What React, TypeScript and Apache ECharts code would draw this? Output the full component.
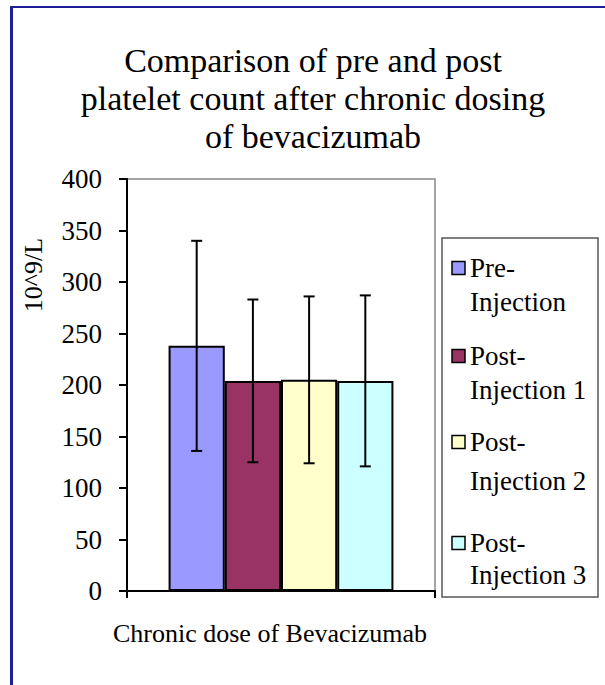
import React, { useEffect, useRef } from "react";
import * as echarts from "echarts";

const categories = ["Chronic dose"];
const seriesNames = ["Pre-Injection", "Post-Injection 1", "Post-Injection 2", "Post-Injection 3"];
const legendLines = [["Pre-", "Injection"], ["Post-", "Injection 1"], ["Post-", "Injection 2"], ["Post-", "Injection 3"]];
const means = [238, 204, 205, 204];
const errors = [102, 79, 81, 83];
const colors = ["#9999FF", "#993366", "#FFFFCC", "#CCFFFF"];
const yTicks = { min: 0, max: 400, interval: 50 };

const FONT = "Liberation Serif";
const GAP = 0.27;

// legend layout (pixel positions of each entry's two text lines)
const legendY1 = [268, 356, 442, 543];
const legendY2 = [302, 390, 481, 575];

export default function App() {
  const ref = useRef<HTMLDivElement>(null);
  useEffect(() => {
    if (!ref.current) return;
    const chart = echarts.init(ref.current, null, { renderer: "svg" });
    const n = seriesNames.length;

    const barSeries = seriesNames.map((name, i) => ({
      name,
      type: "bar",
      data: [means[i]],
      barGap: "0%",
      barCategoryGap: GAP * 100 + "%",
      itemStyle: { color: colors[i], borderColor: "#000", borderWidth: 2 },
      z: 2,
    }));

    const errSeries = seriesNames.map((name, i) => ({
      name: name + " SD",
      type: "custom",
      z: 5,
      encode: { x: 0, y: 1 },
      data: [[0, means[i], errors[i]]],
      renderItem: (params: any, api: any) => {
        const cat = api.value(0);
        const mean = api.value(1);
        const err = api.value(2);
        const band = api.size([1, 0])[0];
        const bw = (band * (1 - GAP)) / n;
        const cx = api.coord([cat, mean])[0] + (i - (n - 1) / 2) * bw;
        const top = api.coord([cat, mean + err])[1];
        const bot = api.coord([cat, mean - err])[1];
        const cap = 5.5;
        const st = { stroke: "#000", lineWidth: 2 };
        return {
          type: "group",
          children: [
            { type: "line", shape: { x1: cx, y1: top, x2: cx, y2: bot }, style: st },
            { type: "line", shape: { x1: cx - cap, y1: top, x2: cx + cap, y2: top }, style: st },
            { type: "line", shape: { x1: cx - cap, y1: bot, x2: cx + cap, y2: bot }, style: st },
          ],
        };
      },
    }));

    const legendGraphics: any[] = [
      {
        type: "rect",
        shape: { x: 442, y: 238, width: 156, height: 359 },
        style: { fill: "#fff", stroke: "#555", lineWidth: 1.5 },
        z: 10,
      },
    ];
    legendLines.forEach((lines, i) => {
      legendGraphics.push({
        type: "rect",
        shape: { x: 452, y: legendY1[i] - 6.5, width: 13, height: 13 },
        style: { fill: colors[i], stroke: "#000", lineWidth: 1.5 },
        z: 11,
      });
      [legendY1[i], legendY2[i]].forEach((yy, k) => {
        legendGraphics.push({
          type: "text",
          x: 470,
          y: yy,
          style: {
            text: lines[k],
            font: `27px ${FONT}`,
            fill: "#000",
            verticalAlign: "middle",
            align: "left",
          },
          z: 11,
        });
      });
    });

    const option: any = {
      animation: false,
      backgroundColor: "#fff",
      textStyle: { fontFamily: FONT },
      title: {
        text: "Comparison of pre and post\nplatelet count after chronic dosing\nof bevacizumab",
        left: 308,
        top: 36,
        textAlign: "center",
        textStyle: { fontFamily: FONT, fontSize: 34, fontWeight: "normal", color: "#000", lineHeight: 38 },
      },
      grid: {
        left: 127,
        top: 179,
        width: 308,
        height: 412,
        show: true,
        borderColor: "#888",
        borderWidth: 1.5,
        backgroundColor: "transparent",
        containLabel: false,
      },
      xAxis: {
        type: "category",
        data: categories,
        boundaryGap: true,
        axisLine: { lineStyle: { color: "#000", width: 2 } },
        axisTick: { show: true, length: 7, lineStyle: { color: "#000", width: 2 } },
        axisLabel: { show: false },
      },
      yAxis: {
        type: "value",
        min: yTicks.min,
        max: yTicks.max,
        interval: yTicks.interval,
        splitLine: { show: false },
        axisLine: { show: true, lineStyle: { color: "#000", width: 2 } },
        axisTick: { show: true, length: 8, lineStyle: { color: "#000", width: 2 } },
        axisLabel: { fontFamily: FONT, fontSize: 27, color: "#000", margin: 25 },
      },
      series: [...barSeries, ...errSeries],
      graphic: [
        { type: "rect", shape: { x: 10, y: 6, width: 3, height: 679 }, style: { fill: "#1f1f99" }, z: 20 },
        { type: "rect", shape: { x: 10, y: 6, width: 595, height: 2 }, style: { fill: "#1f1f99" }, z: 20 },
        {
          type: "text",
          x: 33,
          y: 275,
          rotation: Math.PI / 2,
          style: { text: "10^9/L", font: `26px ${FONT}`, fill: "#000", align: "center", verticalAlign: "middle" },
        },
        {
          type: "text",
          x: 270,
          y: 633,
          style: {
            text: "Chronic dose of Bevacizumab",
            font: `26px ${FONT}`,
            fill: "#000",
            align: "center",
            verticalAlign: "middle",
          },
        },
        ...legendGraphics,
      ],
    };
    chart.setOption(option);
    return () => chart.dispose();
  }, []);
  return <div ref={ref} style={{ position: "absolute", left: 0, top: 0, width: 605, height: 685 }} />;
}
